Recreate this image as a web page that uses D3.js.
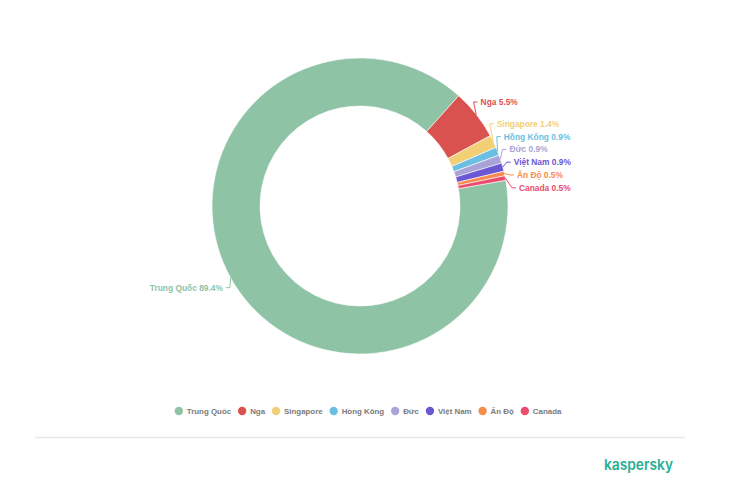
<!DOCTYPE html>
<html>
<head>
<meta charset="utf-8">
<script src="https://cdn.jsdelivr.net/npm/d3@7"></script>
<style>
  html, body { margin: 0; padding: 0; background: #fff; }
  svg { display: block; }
</style>
</head>
<body>
<svg id="chart" width="740" height="493"></svg>
<script>
const categories = ["Trung Quốc", "Nga", "Singapore", "Hồng Kông", "Đức", "Việt Nam", "Ấn Độ", "Canada"];
const values = [89.4, 5.5, 1.4, 0.9, 0.9, 0.9, 0.5, 0.5];
const colors = ["#8fc3a6", "#d9524f", "#f2cf74", "#6bbfe2", "#a9a4d7", "#6b56d3", "#f58b4c", "#e94c6c"];
const valueSuffix = "%";
const brand = "kaspersky";

const W = 740, H = 493;
const cx = 360, cy = 206;
const rOuter = 148, rInner = 100;
const startDeg = 80;
const FONT = "'Liberation Sans', Arial, Helvetica, sans-serif";

const svg = d3.select("#chart");
const data = categories.map((c, i) => ({ name: c, value: values[i], color: colors[i] }));

const pie = d3.pie().sort(null).value(d => d.value)
  .startAngle(startDeg * Math.PI / 180)
  .endAngle(startDeg * Math.PI / 180 + 2 * Math.PI);
const arcs = pie(data);
const arc = d3.arc().innerRadius(rInner).outerRadius(rOuter);

const g = svg.append("g").attr("transform", `translate(${cx},${cy})`);
g.selectAll("path.slice").data(arcs).join("path")
  .attr("class", "slice")
  .attr("d", arc)
  .attr("fill", d => d.data.color)
  .attr("stroke", "#fff")
  .attr("stroke-width", 0.6);

// ---- data labels ----
const D = 168, spacing = 12.8, Rl = 157;
const labels = arcs.map(a => {
  const m = (a.startAngle + a.endAngle) / 2;
  return {
    a, m,
    side: Math.sin(m) >= 0 ? 1 : -1,
    y: -D * Math.cos(m),
    ex: rOuter * Math.sin(m),
    ey: -rOuter * Math.cos(m)
  };
});

function spread(list) {
  list.sort((p, q) => p.y - q.y);
  let clusters = list.map(l => ({ items: [l], mean: l.y }));
  let changed = true;
  while (changed) {
    changed = false;
    clusters.forEach(c => {
      const n = c.items.length;
      c.top = c.mean - (n - 1) * spacing / 2;
      c.bot = c.mean + (n - 1) * spacing / 2;
    });
    for (let i = 0; i < clusters.length - 1; i++) {
      const a = clusters[i], b = clusters[i + 1];
      if (b.top - a.bot < spacing) {
        const items = a.items.concat(b.items);
        clusters.splice(i, 2, { items, mean: d3.mean(items, l => l.y) });
        changed = true;
        break;
      }
    }
  }
  clusters.forEach(c => {
    const top = c.mean - (c.items.length - 1) * spacing / 2;
    c.items.forEach((l, k) => { l.ly = top + k * spacing; });
  });
}
spread(labels.filter(l => l.side === 1));
spread(labels.filter(l => l.side === -1));

labels.forEach(l => {
  const dy = Math.min(Math.abs(l.ly), Rl - 1);
  l.lx = l.side * Math.sqrt(Rl * Rl - dy * dy);
});

g.selectAll("path.conn").data(labels).join("path")
  .attr("class", "conn")
  .attr("fill", "none")
  .attr("stroke", d => d.a.data.color)
  .attr("stroke-width", 1)
  .attr("d", d => {
    const bend = d.lx - d.side * 4;
    return `M${d.ex},${d.ey}L${bend},${d.ly}L${d.lx},${d.ly}`;
  });

g.selectAll("text.lbl").data(labels).join("text")
  .attr("class", "lbl")
  .attr("x", d => d.lx + d.side * 3)
  .attr("y", d => d.ly)
  .attr("dy", "0.35em")
  .attr("text-anchor", d => d.side === 1 ? "start" : "end")
  .attr("font-family", FONT)
  .attr("font-size", 8.4)
  .attr("font-weight", "bold")
  .attr("fill", d => d.a.data.color)
  .text(d => `${d.a.data.name} ${d.a.data.value}${valueSuffix}`);

// ---- legend ----
const legend = svg.append("g").attr("transform", "translate(0,411)");
const items = legend.selectAll("g").data(data).join("g");
items.append("circle").attr("r", 4.2).attr("cy", 0).attr("fill", d => d.color);
items.append("text")
  .attr("x", 8).attr("dy", "0.35em")
  .attr("font-family", FONT)
  .attr("font-size", 7.9)
  .attr("font-weight", "bold")
  .attr("fill", "#7a7a7a")
  .text(d => d.name);
let pos = 0;
const offs = [];
items.each(function () {
  const tw = d3.select(this).select("text").node().getComputedTextLength();
  offs.push(pos);
  pos += 8 + tw + 11;
});
const total = pos - 11 + 4.2;
const startX = 368 - total / 2 + 4.2;
items.attr("transform", (d, i) => `translate(${startX + offs[i]},0)`);

// ---- separator & brand ----
svg.append("line")
  .attr("x1", 35).attr("x2", 685)
  .attr("y1", 437.5).attr("y2", 437.5)
  .attr("stroke", "#e8e8e8").attr("stroke-width", 1.5);

svg.append("text")
  .attr("x", 604).attr("y", 470)
  .attr("font-family", "Inter, 'Open Sans', sans-serif")
  .attr("font-size", 15)
  .attr("font-weight", 600)
  .attr("fill", "#2aae92")
  .attr("textLength", 69)
  .attr("lengthAdjust", "spacingAndGlyphs")
  .text(brand);
</script>
</body>
</html>
